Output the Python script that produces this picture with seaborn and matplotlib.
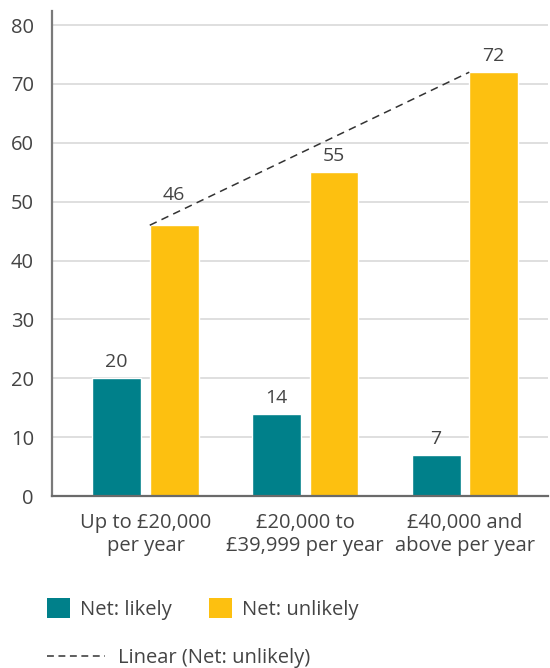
import matplotlib
matplotlib.use("Agg")
import matplotlib.pyplot as plt
from matplotlib.patches import Patch
from matplotlib.lines import Line2D
import pandas as pd
import seaborn as sns

# Survey results by household income band
categories = ["Up to £20,000\nper year", "£20,000 to\n£39,999 per year", "£40,000 and\nabove per year"]
series_names = ["Net: likely", "Net: unlikely"]
likely = [20, 14, 7]
unlikely = [46, 55, 72]
trend_label = "Linear (Net: unlikely)"
y_ticks = [0, 10, 20, 30, 40, 50, 60, 70, 80]

TEAL = "#00808a"
YELLOW = "#fdc010"
TEXT = "#444444"
FS = 14.5

df = pd.DataFrame({
    "category": categories * 2,
    "series": [series_names[0]] * 3 + [series_names[1]] * 3,
    "value": likely + unlikely,
})

sns.set_theme(style="white")
plt.rcParams["font.family"] = ["Open Sans", "DejaVu Sans"]

fig = plt.figure(figsize=(5.5, 6.68), dpi=100)
ax = fig.add_axes([52 / 550, 1 - 496 / 668, 496 / 550, (496 - 11) / 668])

sns.barplot(data=df, x="category", y="value", hue="series",
            palette=[TEAL, YELLOW], width=0.72, gap=0.15,
            saturation=1, legend=False, ax=ax)

ax.set_xlim(-0.585, 2.52)
ax.set_ylim(0, 82.4)
ax.set_yticks(y_ticks)
ax.set_xlabel("")
ax.set_ylabel("")
ax.yaxis.grid(True, color="#d9d9d9", linewidth=1.2)
ax.set_axisbelow(True)
ax.tick_params(axis="both", length=0, labelsize=FS, labelcolor=TEXT)
ax.tick_params(axis="y", pad=13)
ax.tick_params(axis="x", pad=12)
for lbl in ax.get_xticklabels():
    lbl.set_linespacing(1.2)

for side in ["top", "right"]:
    ax.spines[side].set_visible(False)
ax.spines["left"].set_color("#7a7a7a")
ax.spines["left"].set_linewidth(1.6)
ax.spines["bottom"].set_color("#6a6a6a")
ax.spines["bottom"].set_linewidth(1.6)

# value labels above each bar; the first "unlikely" label sits higher,
# clear of the trend line
for ci, container in enumerate(ax.containers):
    pads = [5] * len(container)
    if ci == 1:
        pads[0] = 15
    for bar, pad in zip(container, pads):
        ax.annotate(f"{bar.get_height():.0f}",
                    (bar.get_x() + bar.get_width() / 2, bar.get_height()),
                    xytext=(0, pad), textcoords="offset points",
                    ha="center", va="bottom", fontsize=14, color=TEXT)

# trend line across the "unlikely" bars
yellow_bars = list(ax.containers[1])
x0, x1 = yellow_bars[0].get_x(), yellow_bars[-1].get_x()
ax.plot([x0, x1], [unlikely[0], unlikely[-1]], color="#333333",
        linewidth=1.1, linestyle=(0, (5, 3.5)))

# legends below the plot
patch_handles = [Patch(facecolor=TEAL, edgecolor="none"),
                 Patch(facecolor=YELLOW, edgecolor="none")]
leg1 = fig.legend(patch_handles, series_names, loc="upper left",
                  bbox_to_anchor=(47 / 550, 1 - 598 / 668), ncol=2,
                  frameon=False, fontsize=FS, handlelength=1.15,
                  handleheight=1.15, handletextpad=0.5, columnspacing=1.85,
                  borderpad=0, borderaxespad=0, labelcolor=TEXT)
line_handle = [Line2D([0], [0], color="#333333", linewidth=1.1,
                      linestyle=(0, (4.5, 3)))]
leg2 = fig.legend(line_handle, [trend_label], loc="upper left",
                  bbox_to_anchor=(47 / 550, 1 - 648 / 668), frameon=False,
                  fontsize=FS, handlelength=2.9, handletextpad=0.65,
                  borderpad=0, borderaxespad=0, labelcolor=TEXT)

fig.savefig("out.png", dpi=100)
